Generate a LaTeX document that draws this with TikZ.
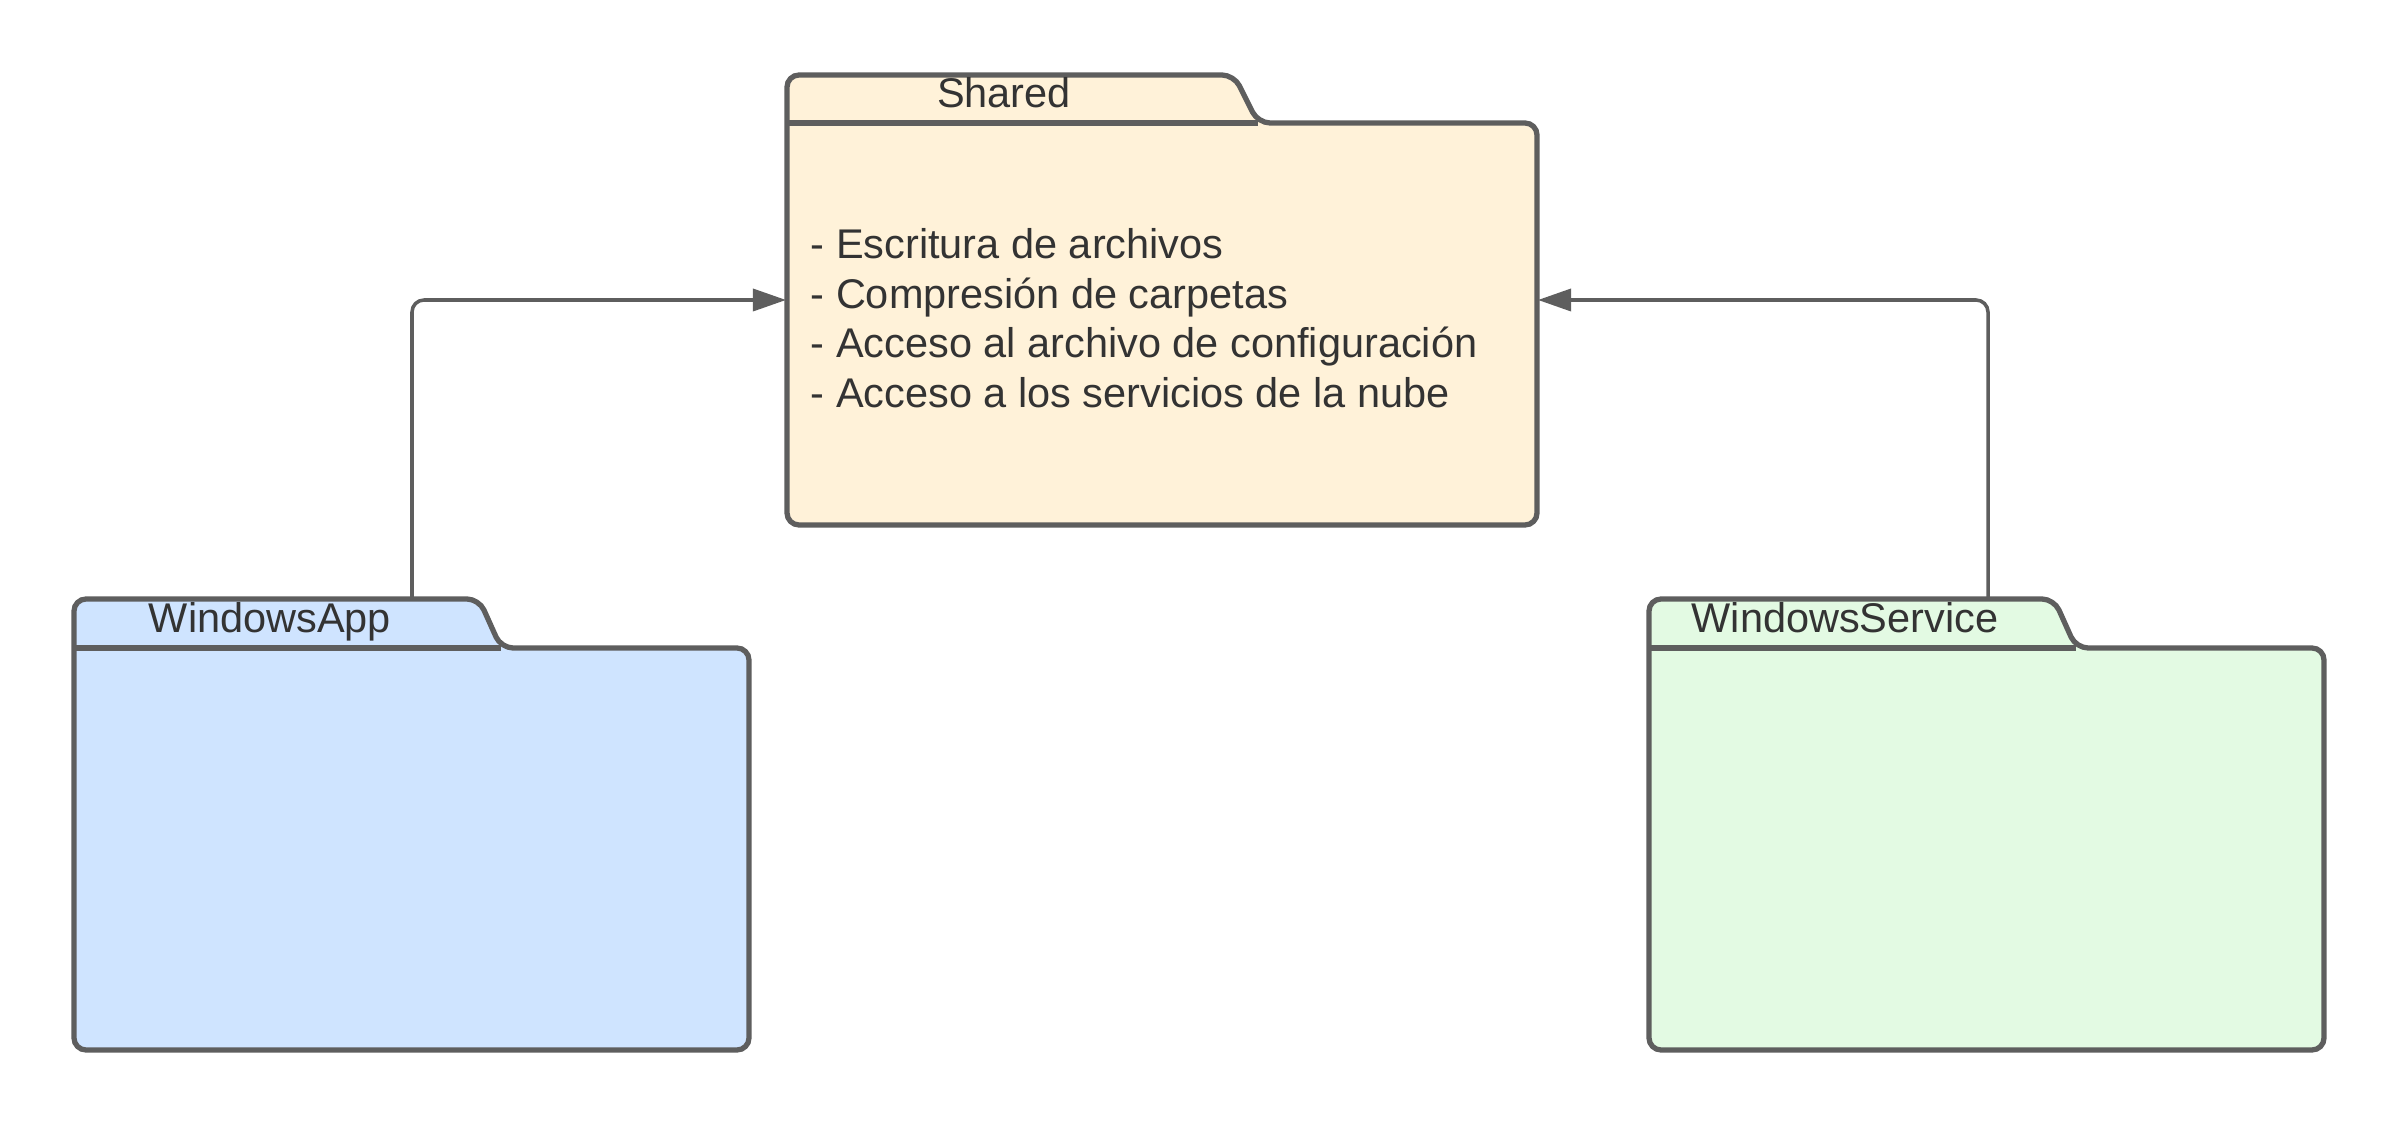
\documentclass[tikz,border=0pt]{standalone}
\usepackage{fontspec}
\setmainfont{Liberation Sans}
\usetikzlibrary{arrows.meta}
\definecolor{edgegrey}{HTML}{5E5E5E}
\definecolor{txtgrey}{HTML}{333333}
\definecolor{sharedfill}{HTML}{FFF2D9}
\definecolor{appfill}{HTML}{CFE4FF}
\definecolor{svcfill}{HTML}{E3FAE3}
\begin{document}
\begin{tikzpicture}[x=0.01cm,y=-0.01cm,
  folder/.style={draw=edgegrey,line width=1.5pt,rounded corners=1.2mm},
  tabline/.style={draw=edgegrey,line width=1.5pt},
  lbl/.style={inner sep=0pt,text=txtgrey,font=\fontsize{11.8}{14.1}\selectfont},
  dep/.style={draw=edgegrey,line width=1pt,rounded corners=1.2mm,-{Triangle[length=3.3mm,width=2.2mm]}}]
\useasboundingbox (0,0) rectangle (2400,1125);
\draw [folder,fill=sharedfill] (787,525) -- (787,75) -- (1234,75) -- (1258,123) -- (1537,123) -- (1537,525) -- cycle;
\draw [tabline] (787,123) -- (1258,123);
\node [lbl,anchor=base] (sharedLbl) at (1004,108) {Shared};
\node [lbl,anchor=north west,align=left] (sharedTxt) at (810,228) {- Escritura de archivos\\- Compresión de carpetas\\- Acceso al archivo de configuración\\- Acceso a los servicios de la nube};
\draw [folder,fill=appfill] (74,1050) -- (74,599) -- (479,599) -- (501,648) -- (749,648) -- (749,1050) -- cycle;
\draw [tabline] (74,648) -- (501,648);
\node [lbl,anchor=base] (appLbl) at (270,633) {WindowsApp};
\draw [folder,fill=svcfill] (1649,1050) -- (1649,599) -- (2054,599) -- (2076,648) -- (2324,648) -- (2324,1050) -- cycle;
\draw [tabline] (1649,648) -- (2076,648);
\node [lbl,anchor=base] (svcLbl) at (1845,633) {WindowsService};
\coordinate (appTop) at (412,598);
\coordinate (svcTop) at (1988,598);
\coordinate (sharedW) at (786,300);
\coordinate (sharedE) at (1538,300);
\draw [dep] (appTop) |- (sharedW);
\draw [dep] (svcTop) |- (sharedE);
\end{tikzpicture}
\end{document}
